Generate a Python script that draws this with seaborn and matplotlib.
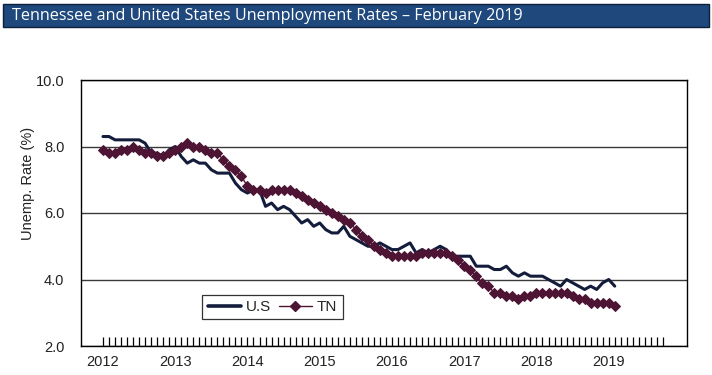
import numpy as np
import pandas as pd
import matplotlib
matplotlib.use("Agg")
import matplotlib.pyplot as plt
import seaborn as sns
from matplotlib.lines import Line2D
from matplotlib.patches import Rectangle

title = "Tennessee and United States Unemployment Rates – February 2019"
year_labels = ["2012", "2013", "2014", "2015", "2016", "2017", "2018", "2019"]
y_ticks = [2.0, 4.0, 6.0, 8.0, 10.0]
series_names = ["U.S", "TN"]

# Monthly values, Jan 2012 .. Feb 2019
us = [8.3, 8.3, 8.2, 8.2, 8.2, 8.2, 8.2, 8.1, 7.8, 7.8, 7.7, 7.9,
      8.0, 7.7, 7.5, 7.6, 7.5, 7.5, 7.3, 7.2, 7.2, 7.2, 6.9, 6.7,
      6.6, 6.7, 6.7, 6.2, 6.3, 6.1, 6.2, 6.1, 5.9, 5.7, 5.8, 5.6,
      5.7, 5.5, 5.4, 5.4, 5.6, 5.3, 5.2, 5.1, 5.0, 5.0, 5.1, 5.0,
      4.9, 4.9, 5.0, 5.1, 4.8, 4.9, 4.8, 4.9, 5.0, 4.9, 4.7, 4.7,
      4.7, 4.7, 4.4, 4.4, 4.4, 4.3, 4.3, 4.4, 4.2, 4.1, 4.2, 4.1,
      4.1, 4.1, 4.0, 3.9, 3.8, 4.0, 3.9, 3.8, 3.7, 3.8, 3.7, 3.9,
      4.0, 3.8]
tn = [7.9, 7.8, 7.8, 7.9, 7.9, 8.0, 7.9, 7.8, 7.8, 7.7, 7.7, 7.8,
      7.9, 8.0, 8.1, 8.0, 8.0, 7.9, 7.8, 7.8, 7.6, 7.4, 7.3, 7.1,
      6.8, 6.7, 6.7, 6.6, 6.7, 6.7, 6.7, 6.7, 6.6, 6.5, 6.4, 6.3,
      6.2, 6.1, 6.0, 5.9, 5.8, 5.7, 5.5, 5.3, 5.2, 5.0, 4.9, 4.8,
      4.7, 4.7, 4.7, 4.7, 4.7, 4.8, 4.8, 4.8, 4.8, 4.8, 4.7, 4.6,
      4.4, 4.3, 4.1, 3.9, 3.8, 3.6, 3.6, 3.5, 3.5, 3.4, 3.5, 3.5,
      3.6, 3.6, 3.6, 3.6, 3.6, 3.6, 3.5, 3.4, 3.4, 3.3, 3.3, 3.3,
      3.3, 3.2]

US_C = "#131d3b"
TN_C = "#4e1434"
BANNER = "#1f497d"

sns.set_theme(style="white")
plt.rcParams["font.family"] = ["Liberation Sans", "DejaVu Sans"]

W, H = 712, 375
fig = plt.figure(figsize=(W / 100, H / 100), dpi=100)
fig.patch.set_facecolor("white")

L, R, T, B = 81, 687, 80, 346
ax = fig.add_axes([L / W, 1 - B / H, (R - L) / W, (B - T) / H])

months = np.arange(len(us))
df = pd.DataFrame({"month": months, series_names[0]: us, series_names[1]: tn})

sns.lineplot(data=df, x="month", y=series_names[0], ax=ax, color=US_C,
             lw=2.2, legend=False)
sns.lineplot(data=df, x="month", y=series_names[1], ax=ax, color=TN_C,
             lw=1.0, marker="D", markersize=4.6, markeredgecolor=TN_C,
             markerfacecolor=TN_C, legend=False)

ax.set_xlim(-3.65, 97)
ax.set_ylim(2, 10)
ax.set_yticks(y_ticks)
ax.set_yticklabels([f"{v:.1f}" for v in y_ticks], fontsize=10.5, color="#222222")
ax.yaxis.grid(True, color="#3a3a3a", lw=1.0)
ax.xaxis.grid(False)
ax.set_axisbelow(True)
ax.tick_params(axis="y", length=0, pad=12)

ax.set_xticks(np.arange(0, 94))
ax.set_xticklabels([])
ax.tick_params(axis="x", direction="in", length=6.5, width=0.9, color="black",
               bottom=True)
for i, lab in enumerate(year_labels):
    ax.text(12 * i, -0.06, lab, transform=ax.get_xaxis_transform(),
            ha="center", va="center", fontsize=10.5, color="#222222")

ax.set_xlabel("")
ax.set_ylabel("")
for s in ax.spines.values():
    s.set_color("black")
    s.set_linewidth(1.0)

fig.text(28 / W, 1 - 183 / H, "Unemp. Rate (%)", rotation=90, ha="center",
         va="center", fontsize=10.5, color="#222222")

handles = [Line2D([], [], color=US_C, lw=2.6),
           Line2D([], [], color=TN_C, lw=1.0, marker="D", markersize=4.6)]
leg = ax.legend(handles, series_names, ncol=2, loc="lower left",
                bbox_to_anchor=(0.2, 0.1), frameon=True, fancybox=False,
                edgecolor="black", fontsize=11, handlelength=2.2,
                handletextpad=0.3, columnspacing=0.5, borderpad=0.35,
                borderaxespad=0)
leg.get_frame().set_linewidth(0.9)

fig.add_artist(Rectangle((3 / W, 1 - 27 / H), 706 / W, 23 / H,
                         transform=fig.transFigure, facecolor=BANNER,
                         edgecolor="#0c1f3c", lw=1.0))
fig.text(12 / W, 1 - 15.5 / H, title, ha="left", va="center", color="white",
         fontsize=11.6, family=["Open Sans", "DejaVu Sans"])

fig.savefig("out.png", dpi=100)
